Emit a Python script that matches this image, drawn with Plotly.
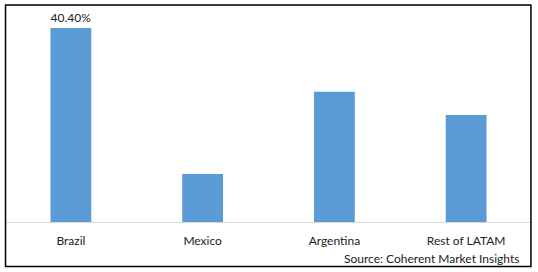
import plotly.graph_objects as go

categories = ["Brazil", "Mexico", "Argentina", "Rest of LATAM"]
shares = [40.40, 10.0, 27.1, 22.3]
labels = ["40.40%", "", "", ""]

fig = go.Figure(go.Bar(
    x=categories, y=shares, text=labels, textposition="outside",
    marker=dict(color="#5B9BD5", line=dict(width=0)),
    width=0.31, cliponaxis=False,
    textfont=dict(size=12, color="#222222"),
    hoverinfo="skip",
))

fig.update_layout(
    width=538, height=272,
    margin=dict(l=4.5, r=6, t=28, b=50),
    paper_bgcolor="white", plot_bgcolor="white",
    font=dict(family="Lato, Open Sans, sans-serif", size=12, color="#222222"),
    showlegend=False,
    xaxis=dict(showline=True, linecolor="#D9D9D9", linewidth=1, ticks="",
               showgrid=False, tickfont=dict(size=12), ticklabelstandoff=8),
    yaxis=dict(range=[0, 40.4], visible=False, showgrid=False),
    shapes=[dict(type="rect", xref="paper", yref="paper",
                 x0=0.001, x1=0.998, y0=-0.229, y1=1.1186,
                 line=dict(color="black", width=1.5))],
    annotations=[dict(text="Source: Coherent Market Insights", xref="paper", yref="paper",
                      x=0.979, y=-0.19, xanchor="right", yanchor="middle",
                      showarrow=False, font=dict(size=12, color="#222222"))],
)

fig.write_html("out.html")
